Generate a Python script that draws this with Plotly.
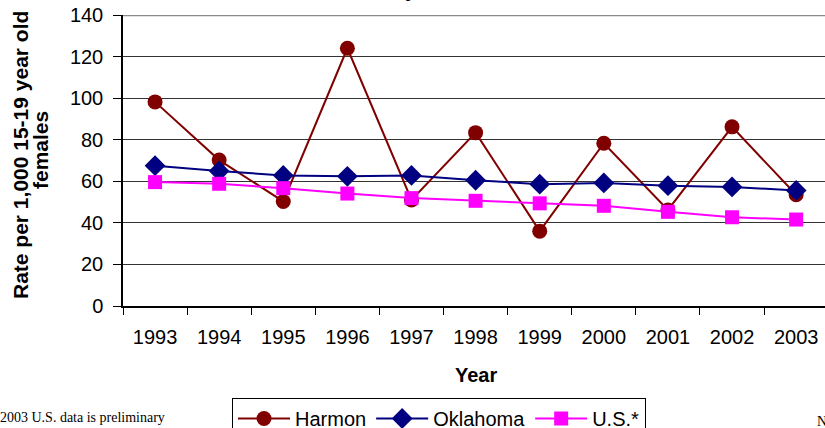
import plotly.graph_objects as go

years = ["1993", "1994", "1995", "1996", "1997", "1998", "1999", "2000", "2001", "2002", "2003"]
harmon = [98.2, 70.2, 50.3, 124.0, 51.0, 83.4, 36.0, 78.3, 46.2, 86.2, 53.5]
oklahoma = [67.5, 64.9, 62.8, 62.4, 62.8, 60.5, 58.6, 59.2, 57.9, 57.3, 55.6]
us = [59.6, 58.8, 56.7, 54.1, 51.9, 50.6, 49.4, 48.2, 45.3, 42.7, 41.6]

y_ticks = [0, 20, 40, 60, 80, 100, 120, 140]

L, T, B = 123, 15, 122
W, H = 825, 428
PW, PH = W - L, H - T - B


def px(x):
    return (x - L) / PW


def py(y):
    return (H - B - y) / PH


fig = go.Figure()
fig.add_trace(go.Scatter(x=years, y=harmon, name="Harmon", mode="lines+markers",
                         line=dict(color="#800000", width=2),
                         marker=dict(symbol="circle", size=15, color="#800000")))
fig.add_trace(go.Scatter(x=years, y=oklahoma, name="Oklahoma", mode="lines+markers",
                         line=dict(color="#000080", width=2),
                         marker=dict(symbol="diamond", size=16, color="#000080")))
fig.add_trace(go.Scatter(x=years, y=us, name="U.S.*", mode="lines+markers",
                         line=dict(color="#FF00FF", width=2),
                         marker=dict(symbol="square", size=14, color="#FF00FF")))

fig.update_layout(
    width=W, height=H,
    margin=dict(l=L, r=0, t=T, b=B, autoexpand=False),
    paper_bgcolor="white", plot_bgcolor="white",
    font=dict(family="Liberation Sans, Arial, sans-serif", color="black", size=20),
    showlegend=True,
    legend=dict(orientation="h", x=px(232), y=py(398), xanchor="left", yanchor="top",
                bordercolor="black", borderwidth=1, bgcolor="white",
                font=dict(size=20), tracegroupgap=0, itemwidth=52),
    xaxis=dict(type="category", range=[-0.5, 10.45], showgrid=False, automargin=False,
               showline=True, linecolor="black", linewidth=1.5,
               ticks="outside", tickson="boundaries", ticklen=7, tickcolor="black",
               tickfont=dict(size=20), ticklabelstandoff=12, fixedrange=True),
    yaxis=dict(range=[0, 140], tickvals=y_ticks, showgrid=True, gridcolor="#333333",
               gridwidth=1, showline=True, linecolor="black", linewidth=1.5,
               automargin=False, ticks="outside", ticklen=8, tickcolor="black",
               zeroline=False, tickfont=dict(size=20), ticklabelstandoff=6),
)

# top gridline appears lighter/thicker gray in the reference
fig.add_shape(type="line", xref="paper", yref="y", x0=0, x1=1, y0=140, y1=140,
              line=dict(color="#8a8a8a", width=2.5))

fig.add_annotation(text="<b>Rate per 1,000 15-19 year old</b>", xref="paper", yref="paper",
                   x=px(20), y=py(155), xanchor="center", yanchor="middle", textangle=-90,
                   showarrow=False, font=dict(size=21))
fig.add_annotation(text="<b>females</b>", xref="paper", yref="paper",
                   x=px(40), y=py(150), xanchor="center", yanchor="middle", textangle=-90,
                   showarrow=False, font=dict(size=21))
fig.add_annotation(text="<b>Year</b>", xref="paper", yref="paper",
                   x=px(476), y=py(375), xanchor="center", yanchor="middle",
                   showarrow=False, font=dict(size=20))

fig.add_annotation(text="<b>Teen Births in Harmon County,</b>", xref="paper", yref="paper",
                   x=px(423), y=py(3), xanchor="right", yanchor="bottom", showarrow=False,
                   font=dict(size=20))
fig.add_annotation(text="2003 U.S. data is preliminary", xref="paper", yref="paper",
                   x=px(-2), y=py(417), xanchor="left", yanchor="middle", showarrow=False,
                   font=dict(family="Liberation Serif, Times New Roman, serif", size=14))
fig.add_annotation(text="N", xref="paper", yref="paper",
                   x=px(815), y=py(421), xanchor="left", yanchor="middle", showarrow=False,
                   font=dict(family="Liberation Serif, Times New Roman, serif", size=14))

fig.write_html("out.html", config={"displayModeBar": False},
               post_script="document.body.style.margin='0';")
